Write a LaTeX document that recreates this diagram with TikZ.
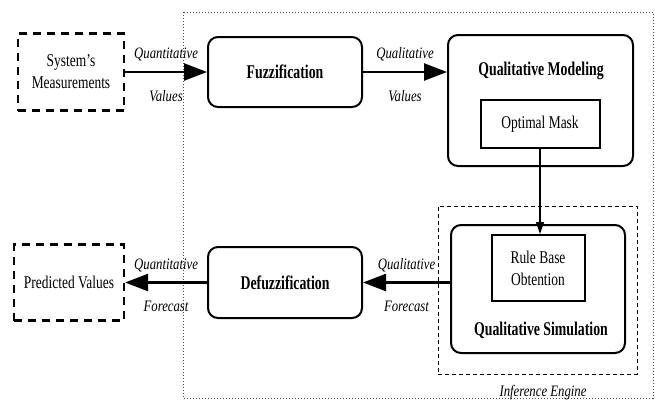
\documentclass[tikz,border=0pt]{standalone}
\usepackage{fontspec}
\setmainfont{Liberation Serif}[FakeStretch=0.75, BoldFeatures={FakeStretch=0.71}, ItalicFeatures={FakeStretch=0.8}]
\usepackage{tikz}
\usetikzlibrary{positioning,arrows.meta}

\begin{document}
\begin{tikzpicture}[
		x=1bp, y=-1bp,
		dashbox/.style = {draw, line width=2.2bp, dash pattern=on 8bp off 6bp, inner sep=0pt, align=center, font=\fontsize{18}{22}\selectfont},
		stage/.style = {draw, line width=2bp, rounded corners=10bp, inner sep=0pt, font=\bfseries\fontsize{19.5}{23}\selectfont},
		box/.style = {draw, line width=2bp, inner sep=0pt, align=center, font=\fontsize{18}{22}\selectfont},
		title/.style = {font=\bfseries\fontsize{19.5}{23}\selectfont},
		lbl/.style = {font=\itshape\fontsize{16}{19}\selectfont},
		flow/.style = {line width=2.5bp, -{Triangle[length=23bp, width=17bp]}}
	]
	\useasboundingbox (0,0) rectangle (655,404);
	% inference region
	\draw[black!70, line width=1bp, dash pattern=on 1bp off 2bp] (183,12) rectangle (653,398);
	\node[dashbox, minimum width=106bp, minimum height=77bp] (sm) at (71,72) {System's\\Measurements};
	\node[stage, minimum width=154bp, minimum height=70bp] (fuzz) [right of=sm, node distance=214bp] {Fuzzification};
	\node[stage, minimum width=154bp, minimum height=71bp] (defuzz) [below of=fuzz, node distance=210.5bp] {Defuzzification};
	\node[dashbox, minimum width=110bp, minimum height=76bp] (pv) [left of=defuzz, node distance=216bp] {Predicted Values};
	% modeling
	\node[stage, minimum width=185bp, minimum height=131bp] (qm) at (540.5,100.5) {};
	\node[title] (qmt) at (541,71) {Qualitative Modeling};
	\node[box, minimum width=119bp, minimum height=48bp] (om) at (540,124) {Optimal Mask};
	% simulation
	\node[draw, line width=1bp, dash pattern=on 4bp off 3bp, minimum width=199bp, minimum height=168bp] (ie) at (537.5,290) {};
	\node[lbl] (iel) at (543,393) {Inference Engine};
	\node[stage, minimum width=174bp, minimum height=128bp] (qs) at (538,289) {};
	\node[box, minimum width=93bp, minimum height=66bp] (rb) at (538,268) {Rule Base\\Obtention};
	\node[title] (qst) at (541,330) {Qualitative Simulation};
	% arrows
	\draw[flow] (sm) -- node[lbl, above=6bp] {Quantitative} node[lbl, below=14bp] {Values} (fuzz);
	\draw[flow] (fuzz) -- node[lbl, above=6bp] {Qualitative} node[lbl, below=14bp] {Values} (fuzz -| qm.west);
	\draw[line width=1.3bp, -{Triangle[length=12bp, width=8bp]}] (om) -- (om |- rb.north);
	\draw[flow] (defuzz -| qs.west) -- node[lbl, above=6bp] {Qualitative} node[lbl, below=14bp] {Forecast} (defuzz);
	\draw[flow] (defuzz) -- node[lbl, above=6bp] {Quantitative} node[lbl, below=14bp] {Forecast} (pv);
\end{tikzpicture}
\end{document}
